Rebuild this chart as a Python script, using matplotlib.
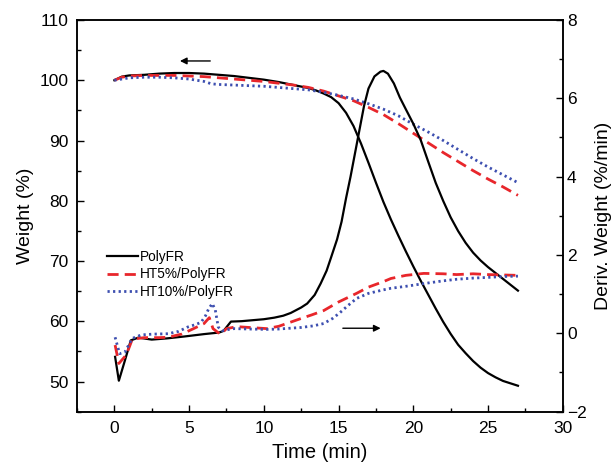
import matplotlib
matplotlib.use("Agg")
import matplotlib.pyplot as plt
from matplotlib.ticker import MultipleLocator

plt.rcParams["font.family"] = ["Liberation Sans", "DejaVu Sans"]

# weight curves (left axis), time in min
T_W_POLY = [0, 0.5, 1, 2, 3, 4, 5, 6, 7, 8, 9, 10, 11, 12, 13, 13.5, 14, 14.5, 15,
            15.5, 16, 16.5, 17, 17.5, 18, 18.5, 19, 19.5, 20, 20.5, 21, 21.5, 22,
            22.5, 23, 23.5, 24, 24.5, 25, 25.5, 26, 26.5, 27]
W_POLY = [100.0, 100.6, 100.8, 100.9, 101.1, 101.2, 101.2, 101.1, 100.9, 100.7, 100.4,
          100.1, 99.7, 99.2, 98.7, 98.3, 97.8, 97.2, 96.2, 94.6, 92.4, 89.5, 86.3, 83.0,
          79.8, 76.9, 74.2, 71.6, 69.1, 66.7, 64.4, 62.1, 59.9, 57.9, 56.1, 54.7, 53.4,
          52.3, 51.4, 50.7, 50.1, 49.7, 49.3]

T_W = [0, 0.5, 1, 2, 3, 4, 5, 6, 7, 8, 9, 10, 11, 12, 13, 14, 15, 16, 17, 18, 19,
       20, 21, 22, 23, 24, 25, 26, 27]
W_HT5 = [100.0, 100.5, 100.7, 100.8, 100.8, 100.8, 100.7, 100.6, 100.4, 100.2, 100.0,
         99.8, 99.5, 99.2, 98.8, 98.2, 97.4, 96.6, 95.5, 94.3, 92.8, 91.2, 89.6, 88.0,
         86.5, 85.0, 83.6, 82.3, 80.9]

T_W_HT10 = [0, 0.5, 1, 2, 3, 4, 5, 6, 6.5, 7, 8, 9, 10, 11, 12, 13, 14, 15, 16, 17,
            18, 19, 20, 21, 22, 23, 24, 25, 26, 27]
W_HT10 = [100.0, 100.2, 100.4, 100.5, 100.5, 100.4, 100.2, 99.8, 99.4, 99.3, 99.2,
          99.1, 99.0, 98.8, 98.6, 98.4, 98.0, 97.5, 96.9, 96.1, 95.2, 94.1, 92.7, 91.4,
          90.0, 88.5, 87.0, 85.6, 84.3, 83.0]

# derivative weight curves (right axis)
T_D_POLY = [0.05, 0.3, 0.7, 1.1, 1.6, 2.5, 3.5, 4.7, 6, 7.0, 7.3, 7.8, 8.5, 9.1, 10,
            10.7, 11.3, 11.8, 12.5, 12.9, 13.4, 13.8, 14.2, 14.5, 14.9, 15.2, 15.5,
            15.8, 16.1, 16.4, 16.7, 17.0, 17.4, 17.8, 18.0, 18.3, 18.7, 19.1, 19.5,
            20.0, 20.5, 21.0, 21.5, 22.0, 22.5, 23.0, 23.5, 24.0, 24.5, 25.0, 25.5,
            26.0, 26.5, 27.0]
D_POLY = [-0.6, -1.21, -0.7, -0.18, -0.11, -0.16, -0.13, -0.08, -0.02, 0.02, 0.06, 0.30,
          0.31, 0.33, 0.36, 0.40, 0.45, 0.52, 0.66, 0.76, 0.98, 1.27, 1.6, 1.94, 2.4,
          2.85, 3.45, 4.0, 4.6, 5.2, 5.8, 6.25, 6.56, 6.68, 6.7, 6.63, 6.38, 6.02, 5.72,
          5.35, 4.93, 4.38, 3.84, 3.38, 2.96, 2.61, 2.31, 2.06, 1.86, 1.69, 1.54, 1.39,
          1.24, 1.09]

T_D_HT5 = [0.05, 0.3, 0.8, 1.2, 2.0, 3.0, 3.6, 4.5, 5.3, 6.0, 6.35, 6.6, 7.1, 7.5,
           8.2, 9.0, 10.2, 11.0, 11.6, 12.5, 13.2, 14.0, 15.0, 16.2, 17.0, 18.0, 18.5,
           19.5, 20.7, 22.0, 22.9, 24.0, 25.0, 26.0, 27.0]
D_HT5 = [-0.3, -0.77, -0.55, -0.15, -0.11, -0.11, -0.10, -0.02, 0.12, 0.25, 0.40, 0.12,
         -0.03, 0.12, 0.17, 0.15, 0.12, 0.18, 0.26, 0.38, 0.47, 0.58, 0.80, 1.02, 1.18,
         1.32, 1.40, 1.48, 1.53, 1.52, 1.50, 1.52, 1.50, 1.49, 1.48]

T_D_HT10 = [0.05, 0.35, 0.7, 1.2, 1.8, 2.6, 3.6, 4.3, 4.9, 5.4, 5.8, 6.1, 6.3, 6.55,
            6.75, 6.95, 7.2, 8.0, 9.0, 10.2, 11.0, 12.5, 13.3, 14.0, 14.6, 15.1, 15.6,
            16.2, 17.0, 18.0, 18.5, 19.5, 20.7, 22.0, 22.9, 24.0, 25.1, 26.0, 27.0]
D_HT10 = [-0.1, -0.52, -0.48, -0.13, -0.04, -0.02, -0.01, 0.05, 0.16, 0.22, 0.28, 0.45,
          0.62, 0.76, 0.60, 0.16, 0.07, 0.12, 0.11, 0.10, 0.11, 0.15, 0.19, 0.25, 0.38,
          0.53, 0.70, 0.89, 1.02, 1.11, 1.15, 1.20, 1.27, 1.34, 1.38, 1.41, 1.43, 1.45,
          1.46]

LABELS = ["PolyFR", "HT5%/PolyFR", "HT10%/PolyFR"]
BLACK = "black"
RED = "#e8262b"
BLUE = "#3d4fb0"
DASH = (0, (4, 2.2))
DOT = (0, (0.8, 1.2))


def style_axis(ax):
    ax.tick_params(which="both", direction="in", labelsize=12.5, width=1.0)
    ax.tick_params(which="major", length=5)
    ax.tick_params(which="minor", length=3)


fig = plt.figure(figsize=(6.13, 4.67), dpi=100)
ax1 = fig.add_axes([0.1256, 0.1185, 0.7925, 0.8387])
ax2 = ax1.twinx()

l1, = ax1.plot(T_W_POLY, W_POLY, color=BLACK, lw=1.6, label=LABELS[0])
l2, = ax1.plot(T_W, W_HT5, color=RED, lw=2.0, ls=DASH, label=LABELS[1])
l3, = ax1.plot(T_W_HT10, W_HT10, color=BLUE, lw=2.0, ls=DOT, label=LABELS[2])

ax2.plot(T_D_POLY, D_POLY, color=BLACK, lw=1.6)
ax2.plot(T_D_HT5, D_HT5, color=RED, lw=2.0, ls=DASH)
ax2.plot(T_D_HT10, D_HT10, color=BLUE, lw=2.0, ls=DOT)

ax1.set_xlim(-2.5, 30)
ax1.set_ylim(45, 110)
ax2.set_ylim(-2, 8)

ax1.xaxis.set_major_locator(MultipleLocator(5))
ax1.xaxis.set_minor_locator(MultipleLocator(2.5))
ax1.yaxis.set_major_locator(MultipleLocator(10))
ax1.yaxis.set_minor_locator(MultipleLocator(5))
ax2.yaxis.set_major_locator(MultipleLocator(2))
ax2.yaxis.set_minor_locator(MultipleLocator(1))

style_axis(ax1)
style_axis(ax2)
ax1.tick_params(axis="x", which="both", top=False, pad=7)
ax1.tick_params(axis="y", which="both", right=False, pad=6)
ax2.tick_params(axis="y", which="both", pad=3)
for a in (ax1, ax2):
    for s in a.spines.values():
        s.set_linewidth(1.1)

ax1.set_xlabel("Time (min)", fontsize=14.5, labelpad=5)
ax1.set_ylabel("Weight (%)", fontsize=14, labelpad=4)
ax2.set_ylabel("Deriv. Weight (%/min)", fontsize=14, labelpad=6)

# direction arrows
ax1.annotate("", xy=(4.2, 103.2), xytext=(6.6, 103.2),
             arrowprops=dict(arrowstyle="-|>", color="black", lw=1.0, mutation_scale=10))
ax2.annotate("", xy=(18.0, 0.13), xytext=(15.1, 0.13),
             arrowprops=dict(arrowstyle="-|>", color="black", lw=1.0, mutation_scale=10))

leg = ax2.legend([l1, l2, l3], LABELS, loc="upper left", frameon=False,
                 bbox_to_anchor=(107 / 613, 1 - 250 / 467), bbox_transform=fig.transFigure,
                 fontsize=9.8, handlelength=2.3, handletextpad=0.1, labelspacing=0.25,
                 borderpad=0, borderaxespad=0)

fig.savefig("out.png", dpi=100)
print("Saved out.png")
